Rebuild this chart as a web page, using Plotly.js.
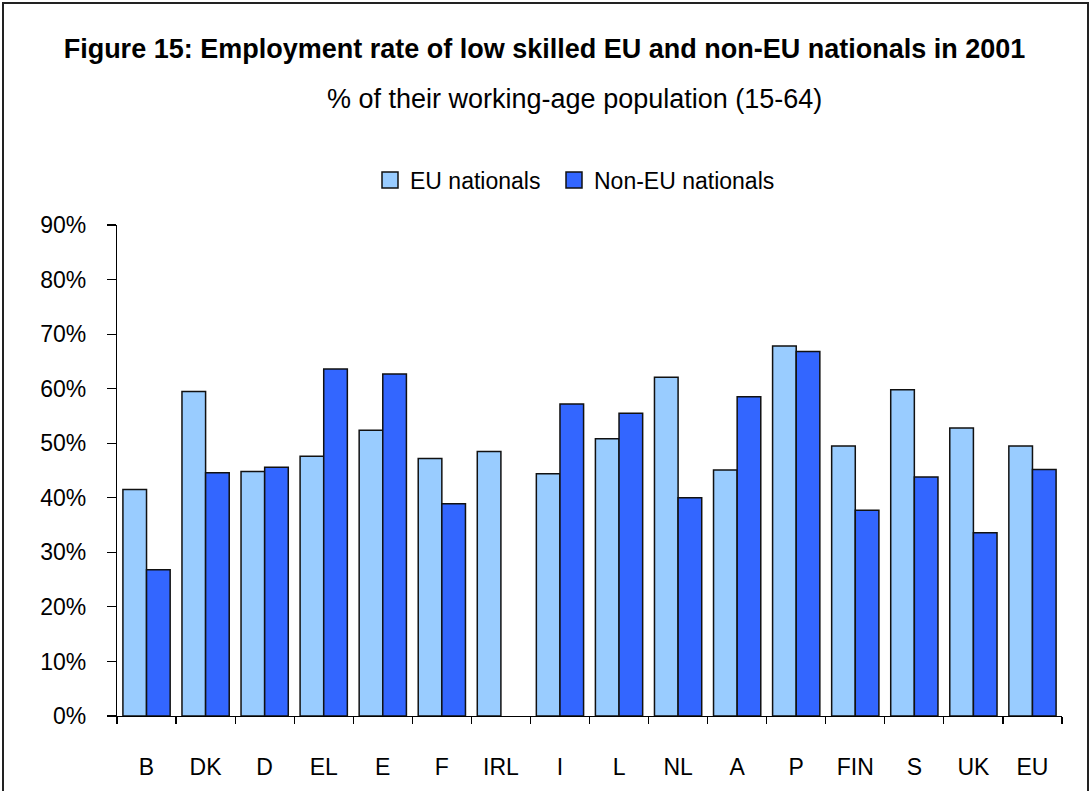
<!DOCTYPE html>
<html>
<head>
<meta charset="utf-8">
<script src="https://cdn.plot.ly/plotly-3.0.1.min.js"></script>
<style>
  html, body { margin: 0; padding: 0; background: #fff; }
  #wrap { position: relative; width: 1089px; height: 791px; overflow: hidden; }
  #chart { width: 1089px; height: 791px; }
  #frame { position: absolute; left: 2px; top: 2px; width: 1083px; height: 820px;
           border: 2px solid #222; pointer-events: none; }
</style>
</head>
<body>
<div id="wrap">
  <div id="chart"></div>
  <div id="frame"></div>
</div>
<script>
const countries = ["B","DK","D","EL","E","F","IRL","I","L","NL","A","P","FIN","S","UK","EU"];
const euNationals = [41.5, 59.5, 44.8, 47.6, 52.4, 47.2, 48.5, 44.4, 50.8, 62.1, 45.1, 67.8, 49.5, 59.8, 52.8, 49.5];
const nonEuNationals = [26.8, 44.6, 45.6, 63.6, 62.7, 38.9, null, 57.2, 55.5, 40.0, 58.5, 66.8, 37.7, 43.8, 33.6, 45.2];
const seriesNames = ["EU nationals", "Non-EU nationals"];
const seriesColors = ["#99CCFF", "#3366FF"];
const yTicks = [0,10,20,30,40,50,60,70,80,90];
const yTickText = yTicks.map(v => v + "%");

const font = "Liberation Sans, Arial, sans-serif";
const outline = { color: "#111", width: 1.5 };

const traces = [
  {
    type: "bar", name: seriesNames[0], x: countries, y: euNationals,
    marker: { color: seriesColors[0], line: outline }, showlegend: false,
    legendgroup: "eu", hoverinfo: "x+y"
  },
  {
    type: "bar", name: seriesNames[1], x: countries, y: nonEuNationals,
    marker: { color: seriesColors[1], line: outline }, showlegend: false,
    legendgroup: "non", hoverinfo: "x+y"
  },
  // legend keys (square swatches like the original)
  {
    type: "scatter", mode: "markers", name: seriesNames[0], x: [null], y: [null],
    marker: { symbol: "square", size: 16, color: seriesColors[0], line: outline },
    legendgroup: "eu", legend: "legend", showlegend: true, hoverinfo: "skip"
  },
  {
    type: "scatter", mode: "markers", name: seriesNames[1], x: [null], y: [null],
    marker: { symbol: "square", size: 16, color: seriesColors[1], line: outline },
    legendgroup: "non", legend: "legend2", showlegend: true, hoverinfo: "skip"
  }
];

const legendBase = {
  orientation: "h", xref: "paper", xanchor: "left",
  yref: "paper", y: 1 + (225-180)/491, yanchor: "middle",
  font: { family: font, size: 23, color: "#000" },
  itemsizing: "trace", bgcolor: "rgba(0,0,0,0)", borderwidth: 0
};

const layout = {
  width: 1089, height: 791,
  margin: { l: 117, r: 27, t: 225, b: 75 },
  paper_bgcolor: "#fff", plot_bgcolor: "#fff",
  font: { family: font, color: "#000", size: 23 },
  barmode: "group", bargap: 0.2, bargroupgap: 0,
  title: {
    text: "<b>Figure 15: Employment rate of low skilled EU and non-EU nationals in 2001</b>",
    font: { family: font, size: 27, color: "#000" },
    xref: "container", x: 0.5, xanchor: "center",
    yref: "container", y: 1 - 49/791, yanchor: "middle"
  },
  annotations: [{
    text: "% of their working-age population (15-64)",
    xref: "paper", x: (574.5-117)/945, xanchor: "center",
    yref: "paper", y: 1 + (225-99)/491, yanchor: "middle",
    showarrow: false, font: { family: font, size: 27, color: "#000" }
  }],
  showlegend: true,
  legend: Object.assign({}, legendBase, { x: (412-42-117)/945 }),
  legend2: Object.assign({}, legendBase, { x: (596-42-117)/945 }),
  xaxis: {
    type: "category", showgrid: false, zeroline: false,
    showline: true, linecolor: "#000", linewidth: 1.2,
    ticks: "outside", tickson: "boundaries", ticklen: 7, tickcolor: "#000", tickwidth: 1.2,
    tickfont: { family: font, size: 23, color: "#000" },
    ticklabelstandoff: 30, fixedrange: true
  },
  yaxis: {
    range: [0, 90], tickmode: "array", tickvals: yTicks, ticktext: yTickText,
    showgrid: false, zeroline: false,
    showline: true, linecolor: "#000", linewidth: 1.2,
    ticks: "outside", ticklen: 9, tickcolor: "#000", tickwidth: 1.2,
    tickfont: { family: font, size: 23, color: "#000" },
    ticklabelstandoff: 16, fixedrange: true
  }
};

Plotly.newPlot("chart", traces, layout, { displayModeBar: false, staticPlot: true });
</script>
</body>
</html>
